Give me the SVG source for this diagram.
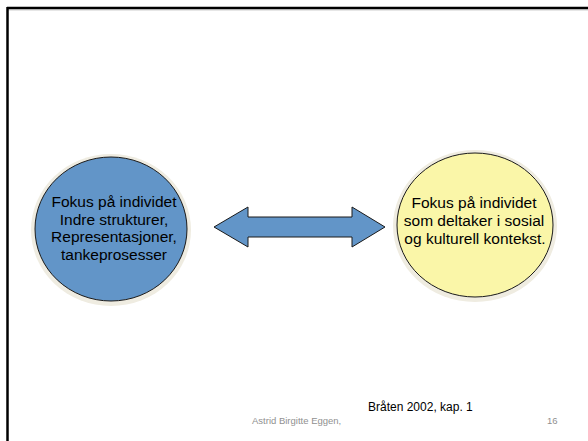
<svg xmlns="http://www.w3.org/2000/svg" width="588" height="441" viewBox="0 0 588 441">
<style>
.lbl{font-family:"Liberation Sans",Arial,sans-serif;font-size:15.5px;fill:#000;text-anchor:middle}
.ft{font-family:"Liberation Sans",Arial,sans-serif;font-size:9.5px;fill:#909090}
.src{font-family:"Liberation Sans",Arial,sans-serif;font-size:12px;fill:#000}
.sh{fill:#efece1}
.node{stroke:#1a1a1a;stroke-width:1}
</style>
<rect width="588" height="441" fill="#fff"/>
<g id="frame">
<line x1="7" y1="8" x2="588" y2="8" stroke="#000" stroke-width="2.5"/>
<line x1="7" y1="9.8" x2="588" y2="9.8" stroke="#aaa" stroke-width="1"/>
<line x1="7.5" y1="7" x2="7.5" y2="441" stroke="#000" stroke-width="2.5"/>
</g>
<g id="node-left">
<ellipse class="sh" cx="111" cy="230" rx="80" ry="76"/>
<ellipse class="node" cx="111" cy="229" rx="76" ry="72" fill="#6295c8"/>
<text class="lbl" x="114" y="207">Fokus på individet</text>
<text class="lbl" x="114" y="224.5">Indre strukturer,</text>
<text class="lbl" x="114" y="242">Representasjoner,</text>
<text class="lbl" x="114" y="259.5">tankeprosesser</text>
</g>
<g id="node-right">
<ellipse class="sh" cx="475" cy="226" rx="82" ry="76"/>
<ellipse class="node" cx="475" cy="225" rx="78" ry="72" fill="#faf6a8"/>
<text class="lbl" x="474" y="207.5">Fokus på individet</text>
<text class="lbl" x="474" y="225.5">som deltaker i sosial</text>
<text class="lbl" x="475" y="243.5">og kulturell kontekst.</text>
</g>
<g id="connectors">
<polygon points="214,227 248,207 248,217 352,217 352,207 385,227 352,247 352,237 248,237 248,247" fill="#6295c8" stroke="#1a1a1a" stroke-width="1"/>
</g>
<g id="footer">
<text class="src" x="368" y="411">Bråten 2002, kap. 1</text>
<text class="ft" x="252" y="424">Astrid Birgitte Eggen,</text>
<text class="ft" x="547" y="424">16</text>
</g>
</svg>
